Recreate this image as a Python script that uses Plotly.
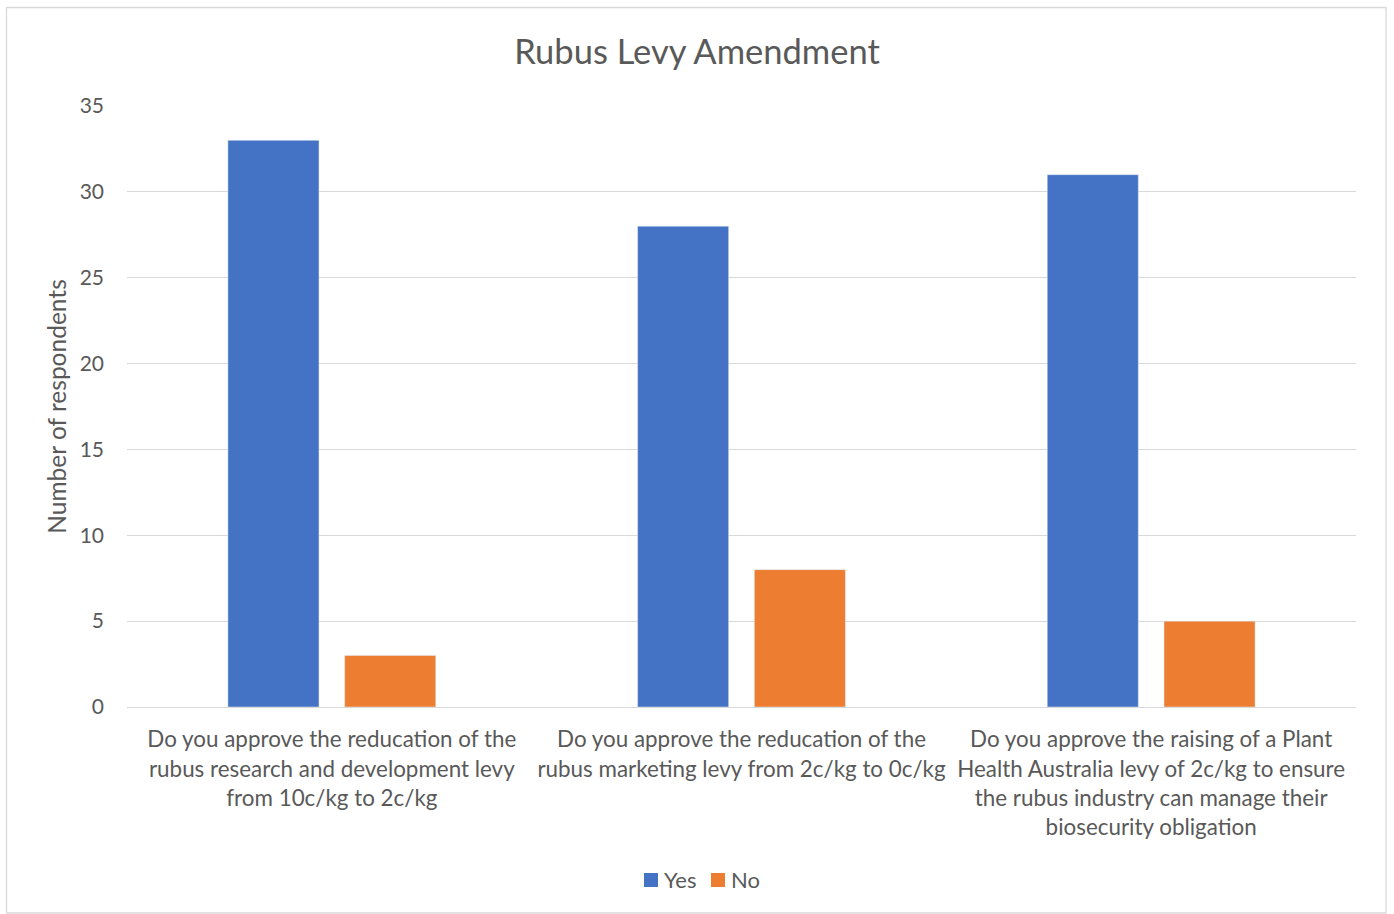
import plotly.graph_objects as go

categories = [
    "Do you approve the reducation of the<br>rubus research and development levy<br>from 10c/kg to 2c/kg",
    "Do you approve the reducation of the<br>rubus marketing levy from 2c/kg to 0c/kg",
    "Do you approve the raising of a Plant<br>Health Australia levy of 2c/kg to ensure<br>the rubus industry can manage their<br>biosecurity obligation",
]
yes_values = [33, 28, 31]
no_values = [3, 8, 5]
y_ticks = [0, 5, 10, 15, 20, 25, 30, 35]
series_names = ["Yes", "No"]
series_colors = ["#4472C4", "#ED7D31"]

FONT = "Lato, 'Open Sans', sans-serif"
TXT = "#595959"

fig = go.Figure()
fig.add_trace(go.Bar(name=series_names[0], x=categories, y=yes_values, marker_color=series_colors[0]))
fig.add_trace(go.Bar(name=series_names[1], x=categories, y=no_values, marker_color=series_colors[1]))

W, H = 1394, 914
L, R, T, B = 127, 38, 106, 207
pw, ph = W - L - R, H - T - B

def px_x(p):
    return (p - L) / pw

def px_y(p):
    return (H - B - p) / ph

fig.add_shape(type="rect", xref="paper", yref="paper",
              x0=px_x(6.5), x1=px_x(1386), y0=px_y(913), y1=px_y(7.5),
              line=dict(color="#d9d9d9", width=1.3), fillcolor="rgba(0,0,0,0)", layer="below")

# custom legend (squares + real text labels)
legend_sq_x = [644, 711]
legend_txt_x = [662, 729]
for name, col, sx, tx in zip(series_names, series_colors, legend_sq_x, legend_txt_x):
    fig.add_shape(type="rect", xref="paper", yref="paper",
                  x0=px_x(sx), x1=px_x(sx + 14), y0=px_y(887), y1=px_y(873),
                  line=dict(width=0), fillcolor=col)
    fig.add_annotation(text=name, xref="paper", yref="paper", x=px_x(tx), y=px_y(879.5),
                       xanchor="left", yanchor="middle", showarrow=False,
                       font=dict(size=22, color=TXT, family=FONT))

fig.update_layout(
    width=W, height=H,
    margin=dict(l=L, r=R, t=T, b=B),
    paper_bgcolor="white", plot_bgcolor="white",
    barmode="group", bargap=0.43, bargroupgap=0.22,
    font=dict(family=FONT, color=TXT, size=20),
    title=dict(text="Rubus Levy Amendment", x=0.5, xanchor="center",
               y=1 - 52 / H, yanchor="middle",
               font=dict(size=34.5, color=TXT, family=FONT)),
    showlegend=False,
    xaxis=dict(showgrid=False, showline=False, ticks="", tickfont=dict(size=22.4, color=TXT),
               tickangle=0, ticklabelstandoff=17),
    yaxis=dict(range=[0, 35], tickvals=y_ticks, showgrid=True, gridcolor="#d9d9d9", gridwidth=1.3,
               zeroline=True, zerolinecolor="#d9d9d9", zerolinewidth=1.3,
               showline=False, ticks="", tickfont=dict(size=21, color=TXT),
               ticklabelstandoff=22,
               title=dict(text="Number of respondents", font=dict(size=24.5, color=TXT), standoff=6)),
)

fig.write_html("out.html")
